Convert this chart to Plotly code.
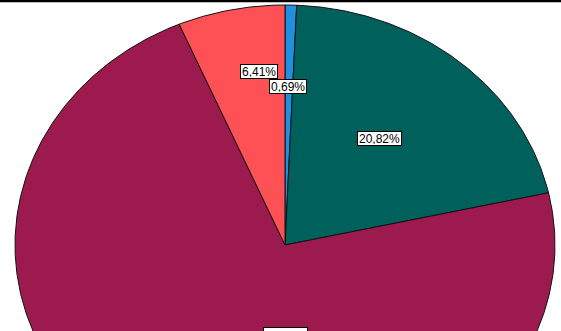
import numpy as np
import plotly.graph_objects as go

# ---- data ----
categories = ["Categoría 1", "Categoría 2", "Categoría 3", "Categoría 4"]
values = [0.69, 20.82, 72.08, 6.41]          # percent, clockwise from 12 o'clock
colors = ["#1F8FE0", "#00605B", "#9D1A4F", "#FD5156"]

# ---- layout / style (pixels) ----
W, H = 561, 331
CX, CY = 285, 245
RX, RY = 270, 240
label_xy = [(288, 86.5), (379, 138.5), (285, 326.5), (259, 71.5)]
label_anchor = ["middle", "middle", "top", "middle"]
label_h = [11, 11, 14, 11]

fig = go.Figure()

total = sum(values)
start = 0.0
for name, v, col in zip(categories, values, colors):
    a0 = start / total * 2 * np.pi
    a1 = (start + v) / total * 2 * np.pi
    t = np.linspace(a0, a1, max(int(v * 8), 6))
    xs = np.concatenate([[CX], CX + RX * np.sin(t), [CX]])
    ys = np.concatenate([[CY], CY - RY * np.cos(t), [CY]])
    fig.add_trace(go.Scatter(
        x=xs, y=ys, mode="lines", fill="toself", fillcolor=col,
        line=dict(color="#111111", width=1), name=name,
        hoverinfo="name", showlegend=False))
    start += v

for v, (lx, ly), anc, hh in zip(values, label_xy, label_anchor, label_h):
    txt = f"{v:.2f}".replace(".", ",") + "%"
    fig.add_annotation(
        x=lx, y=ly, text=txt, showarrow=False,
        xanchor="center", yanchor=anc, valign="middle",
        font=dict(family="Arial, Liberation Sans, sans-serif", size=12, color="#000000"),
        bgcolor="#FFFFFF", bordercolor="#000000", borderwidth=1, borderpad=1,
        height=hh)

fig.add_shape(type="rect", xref="paper", yref="paper", x0=0, x1=1, y0=1, y1=0.993,
              fillcolor="#000000", line=dict(width=0), layer="above")

fig.update_layout(
    width=W, height=H,
    margin=dict(l=0, r=0, t=0, b=0),
    paper_bgcolor="#FFFFFF", plot_bgcolor="#FFFFFF",
    xaxis=dict(range=[0, W], visible=False, fixedrange=True),
    yaxis=dict(range=[H, 0], visible=False, fixedrange=True),
    showlegend=False,
)

fig.write_html("out.html", config={"displayModeBar": False})
